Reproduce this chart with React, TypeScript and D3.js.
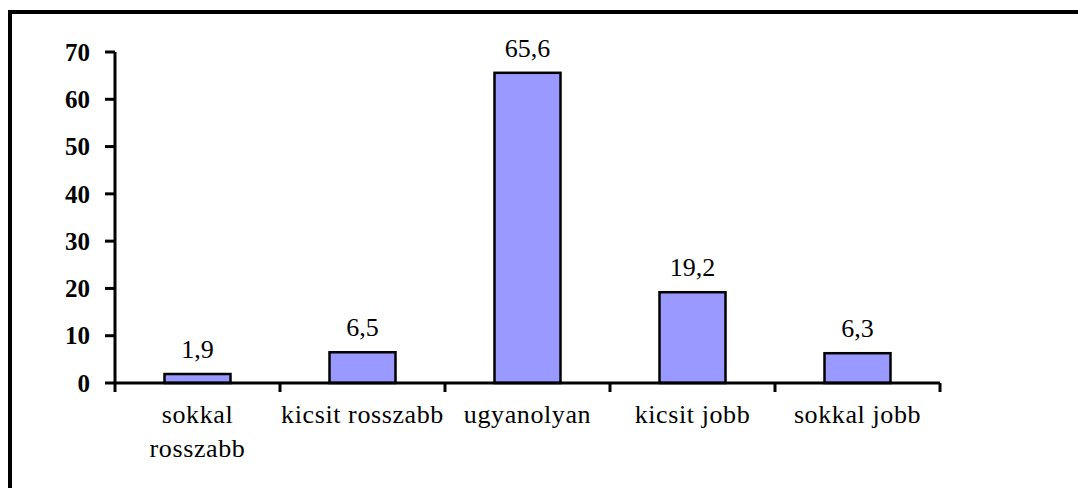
import React from 'react';
import * as d3 from 'd3';

const categories = ['sokkal rosszabb', 'kicsit rosszabb', 'ugyanolyan', 'kicsit jobb', 'sokkal jobb'];
const categoryLines = [['sokkal', 'rosszabb'], ['kicsit rosszabb'], ['ugyanolyan'], ['kicsit jobb'], ['sokkal jobb']];
const values = [1.9, 6.5, 65.6, 19.2, 6.3];
const valueLabels = ['1,9', '6,5', '65,6', '19,2', '6,3'];
const yTicks = [0, 10, 20, 30, 40, 50, 60, 70];

export default function App() {
    const width = 1078;
    const height = 488;
    const left = 115;
    const right = 940;
    const top = 52;
    const bottom = 383;

    const x = d3.scaleBand<string>()
        .domain(categories)
        .range([left, right])
        .paddingInner(0.6)
        .paddingOuter(0.3);

    const y = d3.scaleLinear().domain([0, 70]).range([bottom, top]);

    const step = x.step();
    const boundaries = d3.range(categories.length + 1).map((i) => left + i * step);
    const font = '"Liberation Serif", "Times New Roman", serif';

    return (
        <svg width={width} height={height} style={{ position: 'absolute', left: 0, top: 0, display: 'block', background: '#fff' }}>
            {/* outer frame, clipped on right and bottom */}
            <rect x={10} y={12} width={1200} height={700} fill="none" stroke="#000" strokeWidth={4} />

            {/* y axis */}
            <line x1={left} x2={left} y1={y(70)} y2={y(0)} stroke="#000" strokeWidth={3} />
            {yTicks.map((t) => (
                <g key={t}>
                    <line x1={left - 10} x2={left} y1={y(t)} y2={y(t)} stroke="#000" strokeWidth={3} />
                    <text x={90} y={y(t)} dy="0.35em" textAnchor="end" fontFamily={font} fontWeight="bold" fontSize={25}>{t}</text>
                </g>
            ))}

            {/* bars */}
            {categories.map((c, i) => (
                <g key={c}>
                    <rect
                        x={x(c)}
                        y={y(values[i])}
                        width={x.bandwidth()}
                        height={y(0) - y(values[i])}
                        fill="#9999FF"
                        stroke="#000"
                        strokeWidth={2.5}
                    />
                    <text
                        x={(x(c) ?? 0) + x.bandwidth() / 2}
                        y={y(values[i]) - 16}
                        textAnchor="middle"
                        fontFamily={font}
                        fontSize={26}
                    >{valueLabels[i]}</text>
                    {categoryLines[i].map((ln, j) => (
                        <text
                            key={j}
                            x={(x(c) ?? 0) + x.bandwidth() / 2}
                            y={423 + j * 34}
                            textAnchor="middle"
                            fontFamily={font}
                            fontSize={26}
                            letterSpacing={0.6}
                        >{ln}</text>
                    ))}
                </g>
            ))}

            {/* x axis */}
            <line x1={left} x2={right} y1={y(0)} y2={y(0)} stroke="#000" strokeWidth={3} />
            {boundaries.map((b, i) => (
                <line key={i} x1={b} x2={b} y1={y(0)} y2={y(0) + 9} stroke="#000" strokeWidth={3} />
            ))}
        </svg>
    );
}
